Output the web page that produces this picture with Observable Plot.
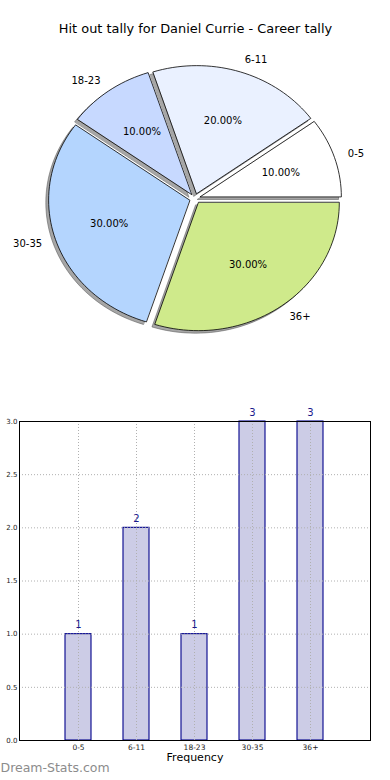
<!DOCTYPE html>
<html>
<head>
<meta charset="utf-8">
<script src="https://cdn.jsdelivr.net/npm/d3@7"></script>
<script src="https://cdn.jsdelivr.net/npm/@observablehq/plot@0.6"></script>
<style>
  html, body { margin: 0; padding: 0; background: #fff; }
  #chart svg { display: block; font-family: "DejaVu Sans", sans-serif; }
</style>
</head>
<body>
<div id="chart"></div>
<script>
// ---- data ----
const title = "Hit out tally for Daniel Currie - Career tally";
const categories = ["0-5", "6-11", "18-23", "30-35", "36+"];
const counts = [1, 2, 1, 3, 3];
const sliceColors = ["#ffffff", "#eaf1ff", "#c7d9ff", "#b4d5fe", "#cfea8b"];
const yTicks = [0, 0.5, 1.0, 1.5, 2.0, 2.5, 3.0];
const xLabel = "Frequency";
const watermark = "Dream-Stats.com";

// ---- pie geometry (in radius units) ----
const total = d3.sum(counts);
const explode = 0.04;
const shadowOff = 0.02;
let cum = 0;
const slices = counts.map((v, i) => {
  const a0 = 2 * Math.PI * cum / total;
  cum += v;
  const a1 = 2 * Math.PI * cum / total;
  const mid = (a0 + a1) / 2;
  const ox = explode * Math.cos(mid), oy = explode * Math.sin(mid);
  const n = Math.max(8, Math.ceil((a1 - a0) / (Math.PI / 90)));
  const pts = [{x: ox, y: oy}];
  for (let k = 0; k <= n; k++) {
    const a = a0 + (a1 - a0) * k / n;
    pts.push({x: ox + Math.cos(a), y: oy + Math.sin(a)});
  }
  return {cat: categories[i], value: v, color: sliceColors[i], mid, ox, oy, pts};
});

const labelRows = slices.map(s => ({
  text: s.cat,
  x: s.ox + 1.1 * Math.cos(s.mid),
  y: s.oy + 1.1 * Math.sin(s.mid),
  anchor: Math.cos(s.mid) > 0 ? "start" : "end"
}));
const pctRows = slices.map(s => ({
  text: (100 * s.value / total).toFixed(2) + "%",
  x: s.ox + 0.6 * Math.cos(s.mid),
  y: s.oy + 0.6 * Math.sin(s.mid)
}));

const W = 390, PH = 400;
const cx = 194.5, cy = 198, rx = 141, ry = 128;

const pie = Plot.plot({
  width: W, height: PH,
  margin: 0,
  x: {domain: [-cx / rx, (W - cx) / rx], range: [0, W], axis: null},
  y: {domain: [-(PH - cy) / ry, cy / ry], range: [PH, 0], axis: null},
  marks: [
    ...slices.map(s => Plot.line(s.pts.map(p => ({x: p.x - shadowOff, y: p.y - shadowOff})), {
      x: "x", y: "y", curve: "linear-closed",
      fill: "#4d4d4d", fillOpacity: 0.5, stroke: "#4d4d4d", strokeOpacity: 0.5, strokeWidth: 1
    })),
    ...slices.map(s => Plot.line(s.pts, {
      x: "x", y: "y", curve: "linear-closed",
      fill: s.color, stroke: "#000", strokeWidth: 0.8
    })),
    Plot.text(labelRows.filter(d => d.anchor === "start"), {x: "x", y: "y", text: "text", textAnchor: "start", fontSize: 10, fill: "#000"}),
    Plot.text(labelRows.filter(d => d.anchor === "end"), {x: "x", y: "y", text: "text", textAnchor: "end", fontSize: 10, fill: "#000"}),
    Plot.text(pctRows, {x: "x", y: "y", text: "text", fontSize: 10, fill: "#000"}),
    Plot.text([title], {frameAnchor: "top", dy: 23, fontSize: 12.9, fill: "#000"})
  ]
});

// ---- bar chart ----
const barData = categories.map((c, i) => ({cat: c, count: counts[i]}));
const bars = Plot.plot({
  width: W, height: 380,
  marginTop: 21, marginBottom: 40, marginLeft: 19, marginRight: 20,
  x: {domain: categories, paddingInner: 0.55, paddingOuter: 0.775, label: null},
  y: {domain: [0, 3], label: null},
  marks: [
    Plot.barY(barData, {x: "cat", y: "count", fill: "#cccce6", stroke: "#00008b", strokeWidth: 1.1}),
    Plot.ruleY(yTicks, {stroke: "#b0b0b0", strokeDasharray: "1,2"}),
    Plot.ruleX(categories, {x: d => d, stroke: "#b0b0b0", strokeDasharray: "1,2"}),
    Plot.frame({stroke: "#000", strokeWidth: 1}),
    Plot.axisY(yTicks, {tickFormat: d3.format(".1f"), tickSize: 0, tickPadding: 2, fontSize: 7, label: null, fill: "#222"}),
    Plot.axisX({tickSize: 0, tickPadding: 4, fontSize: 7.5, label: null, fill: "#222"}),
    Plot.text(barData, {x: "cat", y: "count", text: d => String(d.count), dy: -9, fontSize: 10, fill: "#1a1a8c"}),
    Plot.text([xLabel], {frameAnchor: "bottom", dy: 20, fontSize: 11, fill: "#000"}),
    Plot.text([watermark], {frameAnchor: "bottom-left", dx: -19, dy: 31, textAnchor: "start", fontSize: 12.5, fill: "#8c8c8c"})
  ]
});

document.getElementById("chart").append(pie, bars);
</script>
</body>
</html>
